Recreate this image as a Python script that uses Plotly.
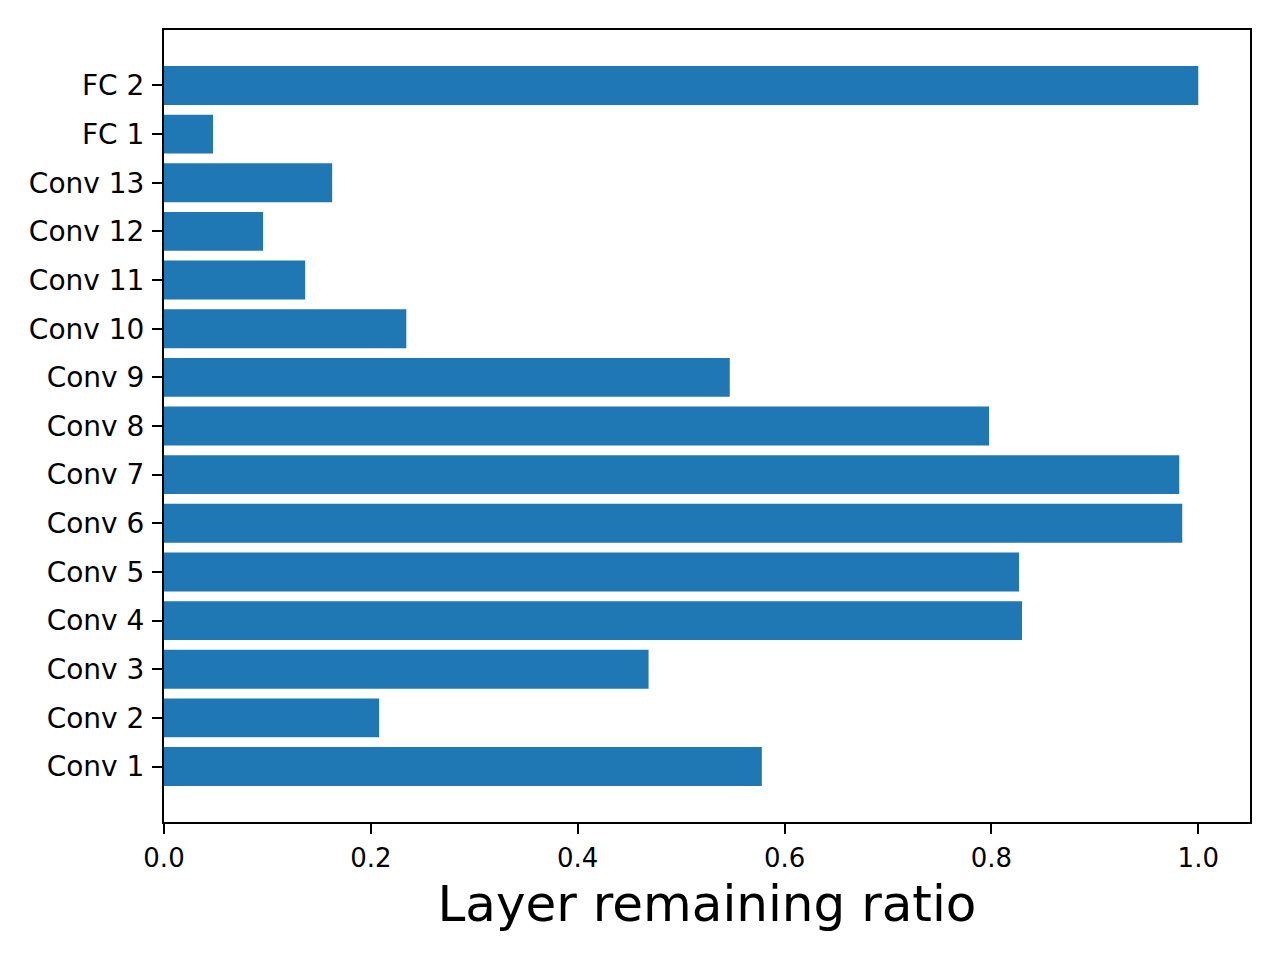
import plotly.graph_objects as go

layers = ["Conv 1", "Conv 2", "Conv 3", "Conv 4", "Conv 5", "Conv 6", "Conv 7",
          "Conv 8", "Conv 9", "Conv 10", "Conv 11", "Conv 12", "Conv 13", "FC 1", "FC 2"]
ratios = [0.578, 0.208, 0.4685, 0.8296, 0.8267, 0.9845, 0.9816,
          0.7977, 0.547, 0.2343, 0.1365, 0.0958, 0.1626, 0.0474, 1.0]
xticks = [0.0, 0.2, 0.4, 0.6, 0.8, 1.0]
xticklabels = ["0.0", "0.2", "0.4", "0.6", "0.8", "1.0"]

ypos = list(range(len(layers)))

fig = go.Figure(go.Bar(
    x=ratios, y=ypos, orientation="h", width=0.8,
    marker=dict(color="#1f77b4", line=dict(width=0)),
))

font = "DejaVu Sans"
fig.update_layout(
    width=1280, height=960,
    margin=dict(l=156, r=38, t=22, b=146),
    paper_bgcolor="white", plot_bgcolor="white",
    showlegend=False,
    font=dict(family=font, color="black"),
    xaxis=dict(
        range=[0, 1.05], tickvals=xticks, ticktext=xticklabels,
        ticks="outside", ticklen=10, tickwidth=2, tickcolor="black",
        showline=True, linewidth=2, linecolor="black", mirror=True,
        showgrid=False, zeroline=False,
        tickfont=dict(size=26, family=font),
        ticklabelstandoff=2,
        title=dict(text="Layer remaining ratio", font=dict(size=50, family=font), standoff=14),
    ),
    yaxis=dict(
        range=[-1.14, 14 + 1.14], tickvals=ypos, ticktext=layers,
        ticks="outside", ticklen=10, tickwidth=2, tickcolor="black",
        showline=True, linewidth=2, linecolor="black", mirror=True,
        showgrid=False, zeroline=False,
        tickfont=dict(size=28, family=font),
        ticklabelstandoff=2,
    ),
)

fig.write_html("out.html")
